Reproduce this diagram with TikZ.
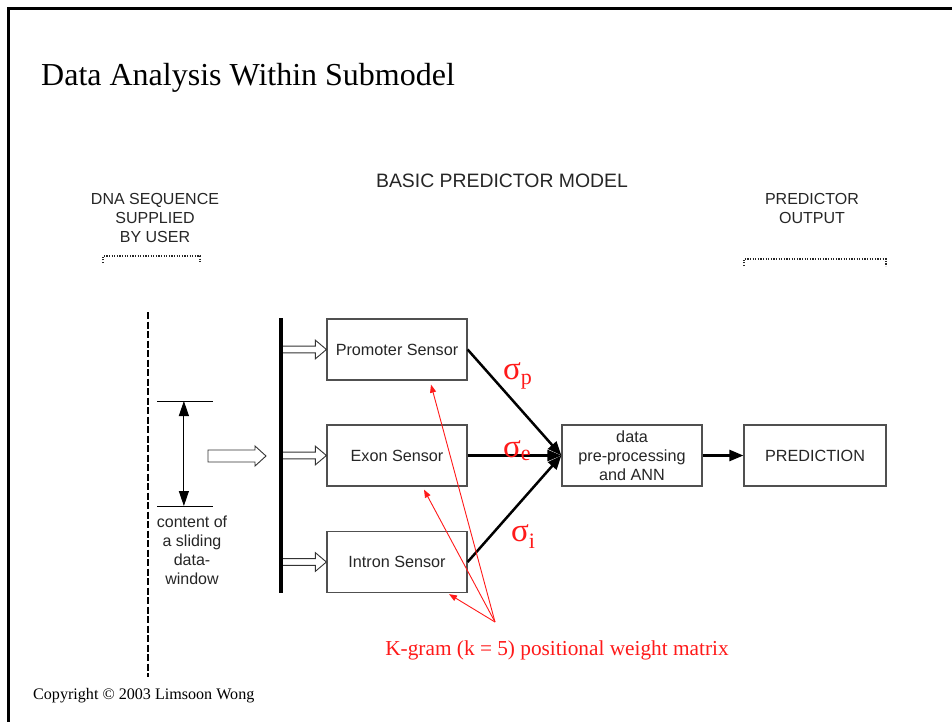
\documentclass[tikz,border=0pt]{standalone}
\usepackage{fontspec}
\setmainfont{Liberation Serif}
\newfontfamily\arialfont{Liberation Sans}
\usetikzlibrary{arrows.meta,calc}
\definecolor{boxline}{HTML}{505050}
\definecolor{annot}{HTML}{FF1A1A}
\tikzset{
  sensor/.style={draw=boxline, line width=1.2pt, minimum width=140pt, minimum height=61pt,
    inner sep=0pt, font=\arialfont\fontsize{16.2}{19}\selectfont, text=black!85, align=center},
  caption/.style={font=\arialfont\fontsize{16}{19}\selectfont, align=center, text=black!85, inner sep=0pt},
  flow/.style={line width=2.5pt, -{Triangle[length=14pt,width=11pt]}},
  hollow/.style={draw=black!80, line width=0.9pt, fill=white},
  pwm/.style={draw=annot, line width=0.9pt, -{Triangle[length=8pt,width=6pt]}},
  bracket/.style={draw=black!85, line width=1.1pt, dash pattern=on 1.2pt off 1.4pt},
  sigmalabel/.style={anchor=base west, inner sep=0pt, text=annot},
}
% open block arrow from #1 to the tip #2: shaft half-height #3, head half-height #4, head length #5
\newcommand\blockarrow[5]{%
  \draw[hollow] ($(#1)+(0,#3)$) -- ($(#2)+(-#5,#3)$) -- ($(#2)+(-#5,#4)$) -- (#2)
    -- ($(#2)+(-#5,-#4)$) -- ($(#2)+(-#5,-#3)$) -- ($(#1)+(0,-#3)$) -- cycle;}
\newcommand\sig[2]{{\fontsize{33}{33}\selectfont σ}\raisebox{-#2pt}{\fontsize{22}{22}\selectfont #1}}
\begin{document}
\begin{tikzpicture}[x=1pt,y=-1pt]
\useasboundingbox (0,0) rectangle (952,722);
\fill[white] (0,0) rectangle (952,722);

% slide frame
\draw[line width=2.7pt] (8.5,722) -- (8.5,8.7) -- (952,8.7);

% title and footer
\node[anchor=base west, inner sep=0pt, font=\fontsize{32}{32}\selectfont] (title) at (41,86) {Data Analysis Within Submodel};
\node[anchor=base west, inner sep=0pt, font=\fontsize{16.1}{16}\selectfont] (copy) at (33,699) {Copyright © 2003 Limsoon Wong};

% headings
\node[caption, font=\arialfont\fontsize{19.4}{19}\selectfont] (model) at (502,181) {BASIC PREDICTOR MODEL};
\node[caption] (dna) at (155,218) {DNA SEQUENCE\\SUPPLIED\\BY USER};
\node[caption] (out) at (812,208.5) {PREDICTOR\\OUTPUT};
\draw[bracket] (103,263) -- (103,256) -- (200,256) -- (200,263);
\draw[bracket] (744,266) -- (744,259) -- (886,259) -- (886,266);

% DNA sequence and the sliding window
\coordinate (seqtop) at (148,312);
\coordinate (seqbot) at (148,677);
\draw[line width=2.6pt, dash pattern=on 7pt off 2.5pt] (seqtop) -- (seqbot);
\coordinate (wtopl) at (157,401); \coordinate (wtopr) at (213,401);
\coordinate (wbotl) at (157,506); \coordinate (wbotr) at (213,506);
\draw[line width=1pt] (wtopl) -- (wtopr);
\draw[line width=1pt] (wbotl) -- (wbotr);
\draw[line width=1pt, {Triangle[length=15pt,width=10pt]}-{Triangle[length=15pt,width=10pt]}]
  ($(wtopl)!0.48!(wtopr)$) -- ($(wbotl)!0.48!(wbotr)$);
\node[caption] (win) at (192,550) {content of\\a sliding\\data-\\window};

% sensors and downstream stages
\node[sensor] (prom) at (397,349.5) {Promoter Sensor};
\node[sensor] (exon) at (397,455.5) {Exon Sensor};
\node[sensor] (intr) at (397,562) {Intron Sensor};
\node[sensor] (ann) at (632,455.5) {data\\pre-processing\\and ANN};
\node[sensor, minimum width=142pt] (pred) at (815,455.5) {PREDICTION};

% distribution bar and block arrows
\coordinate (bartop) at (281,318);
\coordinate (barbot) at (281,593);
\coordinate (wstart) at (208,456);
\coordinate (wtip) at (266,456);
\blockarrow{wstart}{wtip}{6}{10}{11}
\blockarrow{bartop |- prom.west}{prom.west}{3.4}{9.3}{11}
\blockarrow{bartop |- exon.west}{exon.west}{3.4}{9.3}{11}
\blockarrow{bartop |- intr.west}{intr.west}{3.4}{9.3}{11}
\draw[line width=3.2pt] (bartop) -- (barbot);

% sensor outputs
\draw[flow] (prom.east) -- (ann.west);
\draw[flow] (exon.east) -- (ann.west);
\draw[flow] (intr.east) -- (ann.west);
\draw[flow] (ann.east) -- (pred.west);

\node[sigmalabel] (sp) at (503,379) {\sig{p}{5}};
\node[sigmalabel] (se) at (503,457) {\sig{e}{3}};
\node[sigmalabel] (si) at (511,541) {\sig{i}{7}};

% positional weight matrix annotation
\node[font=\fontsize{21.3}{22}\selectfont, text=annot, inner sep=0pt] (kgram) at (557,650)
  {K-gram (k = 5) positional weight matrix};
\coordinate (kg) at (495,622);
\draw[pwm] (kg) -- ($(431,0 |- prom.south)+(0,4)$);
\draw[pwm] (kg) -- ($(424,0 |- exon.south)+(0,3)$);
\draw[pwm] (kg) -- ($(449,0 |- intr.south)+(0,1)$);
\end{tikzpicture}
\end{document}
